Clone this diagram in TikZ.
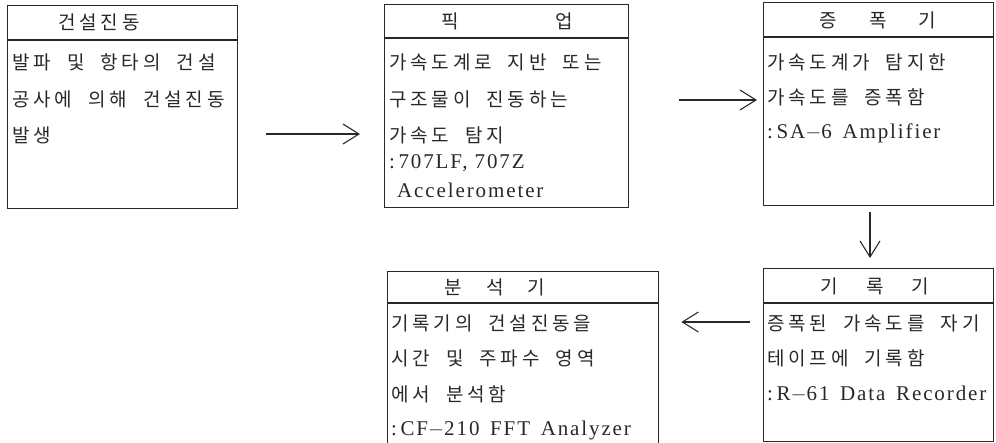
\documentclass[tikz,border=0pt]{standalone}
\usepackage{fontspec}
\setmainfont{Liberation Serif}
\newfontfamily\kr{Noto Sans CJK KR}[LetterSpace=20,WordSpace=2]
\newfontfamily\lat{Liberation Serif}[LetterSpace=9]
\usetikzlibrary{arrows.meta}
\definecolor{ink}{RGB}{40,40,40}
\tikzset{
  box/.style={draw=ink, line width=1.4pt, rectangle, inner sep=0pt, anchor=north west},
  hdr/.style={draw=ink, line width=1.1pt},
  krt/.style={anchor=west, inner sep=0pt, text=ink, font=\kr\fontsize{19}{21}\selectfont},
  krh/.style={anchor=center, inner sep=0pt, text=ink, font=\kr\fontsize{19}{21}\selectfont},
  ltt/.style={anchor=west, inner sep=0pt, text=ink, font=\lat\fontsize{21}{23}\selectfont},
  arr/.style={draw=ink, line width=1.1pt, -{Straight Barb[length=16pt,width=20pt,line width=1.1pt]}},
}
\begin{document}
\begin{tikzpicture}[x=1pt,y=-1pt]
\useasboundingbox (0,0) rectangle (996,443);
% boxes
\node[box, minimum width=230pt, minimum height=203pt] (b1) at (7,5) {};
\node[box, minimum width=244pt, minimum height=203pt] (b2) at (384,4) {};
\node[box, minimum width=230pt, minimum height=203pt] (b3) at (763,2) {};
\node[box, minimum width=230pt, minimum height=173pt] (b4) at (763,268) {};
\node[box, minimum width=271pt, minimum height=172pt] (b5) at (387,271) {};
% header lines
\draw[hdr] (b1.west |- 0,40) -- (b1.east |- 0,40);
\draw[hdr] (b2.west |- 0,38) -- (b2.east |- 0,38);
\draw[hdr] (b3.west |- 0,37) -- (b3.east |- 0,37);
\draw[hdr] (b4.west |- 0,303) -- (b4.east |- 0,303);
\draw[hdr] (b5.west |- 0,303) -- (b5.east |- 0,303);
% box 1
\node[krh] (h1) at (99,22) {건설진동};
\node[krt] (t11) at (12,62) {발파 및 항타의 건설};
\node[krt] (t12) at (12,99) {공사에 의해 건설진동};
\node[krt] (t13) at (12,135) {발생};
% box 2
\node[krh] (h2) at (507,21) {픽\hspace{96pt}업};
\node[krt] (t21) at (389,62) {가속도계로 지반 또는};
\node[krt] (t22) at (389,99) {구조물이 진동하는};
\node[krt] (t23) at (389,135) {가속도 탐지};
\node[ltt] (t24) at (389,163) {:\,707LF, 707Z};
\node[ltt] (t25) at (397,190) {Accelerometer};
% box 3
\node[krh] (h3) at (878,20) {증\hspace{32pt}폭\hspace{32pt}기};
\node[krt] (t31) at (767,62) {가속도계가 탐지한};
\node[krt] (t32) at (767,97) {가속도를 증폭함};
\node[ltt] (t33) at (767,133) {:\,SA$-$6\, Amplifier};
% box 4
\node[krh] (h4) at (875,286) {기\hspace{28pt}록\hspace{28pt}기};
\node[krt] (t41) at (767,323) {증폭된 가속도를 자기};
\node[krt] (t42) at (767,358) {테이프에 기록함};
\node[ltt] (t43) at (767,394) {:\,R$-$61\, Data\, Recorder};
% box 5
\node[krh] (h5) at (495,287) {분\hspace{24pt}석\hspace{24pt}기};
\node[krt] (t51) at (391,323) {기록기의 건설진동을};
\node[krt] (t52) at (391,358) {시간 및 주파수 영역};
\node[krt] (t53) at (391,394) {에서 분석함};
\node[ltt] (t54) at (391,430) {:\,CF$-$210\, FFT\, Analyzer};
% connectors
\draw[arr, shorten <=28pt, shorten >=24pt] (b1.east |- 0,134) -- (b2.west |- 0,134);
\draw[arr, shorten <=50pt, shorten >=6pt] (b2.east |- 0,100) -- (b3.west |- 0,100);
\draw[arr, shorten <=6pt, shorten >=10pt] (b3.south -| 870,0) -- (b4.north -| 870,0);
\draw[arr, shorten <=13pt, shorten >=22pt] (b4.west |- 0,322) -- (b5.east |- 0,322);
\end{tikzpicture}
\end{document}
